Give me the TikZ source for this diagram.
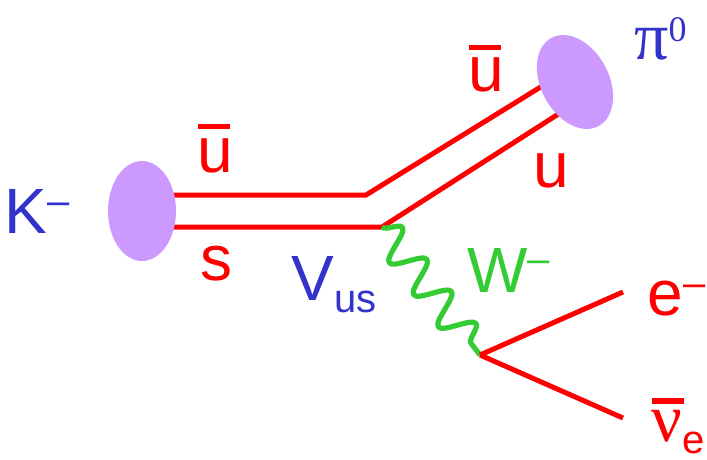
\documentclass[tikz,border=0pt]{standalone}
\usepackage{fontspec}
\setmainfont{Liberation Sans}
\newfontfamily\greekserif{Liberation Serif}
\usepackage{tikz}
\usetikzlibrary{shapes.geometric, decorations.pathmorphing, backgrounds}
\usepackage{xcolor}
\definecolor{cQuark}{HTML}{FF0000}
\definecolor{cMeson}{HTML}{CC99FF}
\definecolor{cName}{HTML}{3333CC}
\definecolor{cBoson}{HTML}{33CC33}
\tikzset{
  meson/.style={ellipse, fill=cMeson, draw=none, inner sep=0pt,
                minimum width=34pt, minimum height=50pt},
  quark/.style={draw=cQuark, line width=2.5pt},
  lepton/.style={draw=cQuark, line width=2.5pt},
  boson/.style={draw=cBoson, line width=2.6pt, line join=round,
                decorate, decoration={snake, segment length=20.2pt, amplitude=8pt}},
  lbl/.style={anchor=base west, inner sep=0pt, font=\fontsize{32}{36}\selectfont},
  namelbl/.style={lbl, text=cName},
  qlbl/.style={lbl, text=cQuark},
  wlbl/.style={lbl, text=cBoson},
}
\newcommand{\supm}{\raisebox{9.5pt}{\fontsize{20}{20}\selectfont\textendash}}
\newcommand{\subs}[1]{\raisebox{-6pt}{\fontsize{20}{20}\selectfont #1}}
\newcommand{\barred}[2]{\rlap{\hspace{0.5pt}\raisebox{#1}{\rule{16pt}{2.6pt}}}{#2}}

\begin{document}
\begin{tikzpicture}[x=0.5pt, y=-0.5pt]
\useasboundingbox (0,0) rectangle (707,460);

% Kinks and free ends of the lines
\coordinate (ubarkink) at (366,195);
\coordinate (skink) at (382,227);
\coordinate (ubarend) at (560,75);
\coordinate (uend) at (560,113);
\coordinate (vtx) at (480,355);
\coordinate (eend) at (623,292);
\coordinate (nuend) at (623,418);

% Mesons
\node[meson] (kaon) at (142,211) {};
\node[meson, rotate=28] (pion) at (575,82) {};

% Quark lines, under the mesons
\begin{scope}[on background layer]
  \draw[quark] (kaon.center |- ubarkink) -- (ubarkink) -- (ubarend);
  \draw[quark] (kaon.center |- skink) -- (skink) -- (uend);
\end{scope}

% W boson and leptons
\draw[boson] (skink) -- (vtx);
\draw[lepton] (vtx) -- (eend);
\draw[lepton] (vtx) -- (nuend);

% Labels
\node[namelbl] (klbl) at (4,234) {K\supm};
\node[qlbl] (ubarl) at (197,172) {\barred{21.5pt}{u}};
\node[qlbl] (sl) at (200,280) {s};
\node[namelbl] (vus) at (291,300) {V\subs{us}};
\node[wlbl] (wlbl) at (467,292) {W\supm};
\node[qlbl] (ubarr) at (468,92) {\barred{21pt}{u}};
\node[qlbl] (ur) at (533,187) {u};
\node[anchor=base west, inner sep=0pt, text=cName] (pilbl) at (634,60)
  {\greekserif\fontsize{34}{36}\selectfont π\raisebox{9pt}{\fontsize{18}{18}\selectfont 0}};
\node[qlbl] (elbl) at (647,315) {e\supm};
\node[qlbl] (nulbl) at (651,441)
  {\barred{18.7pt}{\greekserif\fontsize{34}{36}\selectfont ν}\subs{e}};

\end{tikzpicture}
\end{document}
